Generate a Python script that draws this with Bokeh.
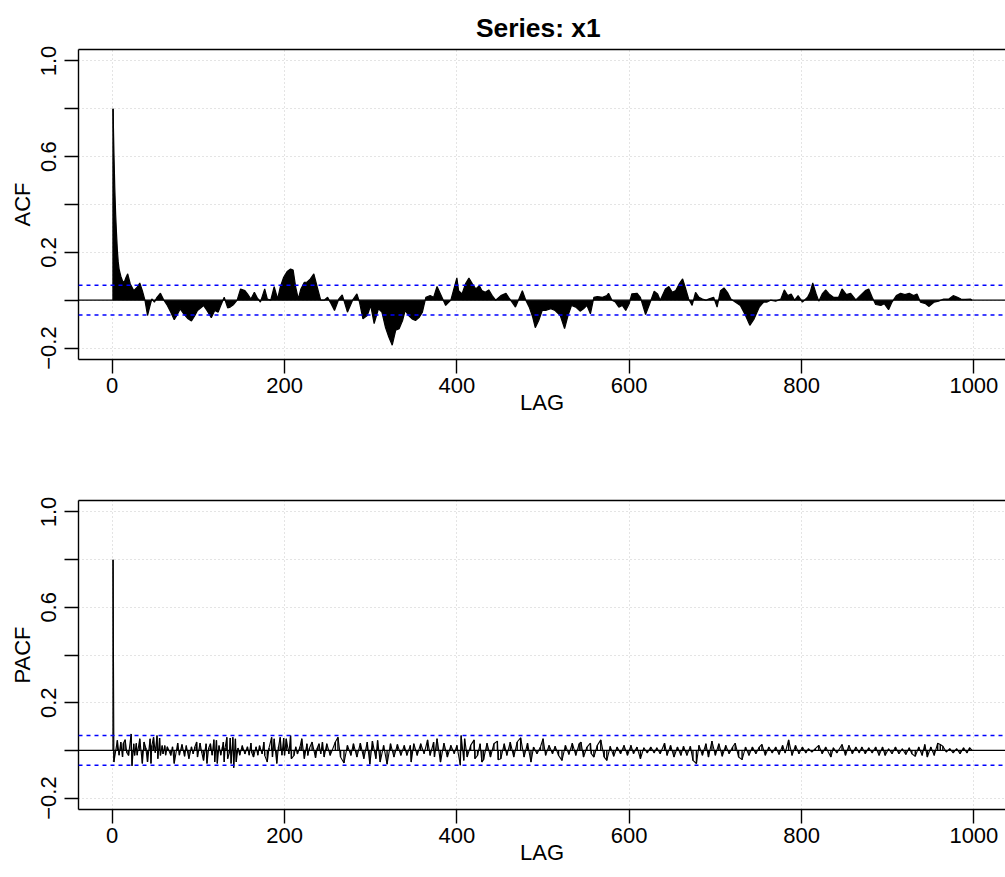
from bokeh.plotting import figure
from bokeh.layouts import column
from bokeh.models import Range1d, FixedTicker, LinearAxis, Span, CustomJSTickFormatter
from bokeh.embed import file_html
from bokeh.resources import INLINE

title_text = "Series:  x1"
x_ticks = [0, 200, 400, 600, 800, 1000]
y_ticks = [-0.2, 0.0, 0.2, 0.4, 0.6, 0.8, 1.0]
conf_limit = 0.062

acf_lag = [1, 2, 3, 4, 5, 6, 7, 8, 10, 12, 14, 16, 18, 21, 25, 29, 32, 35, 38, 41, 44, 46,
           49, 52, 56, 60, 64, 68, 72, 75, 79, 83, 88, 92, 96, 99, 103, 106, 110, 115, 119,
           123, 126, 130, 134, 137, 141, 145, 149, 154, 157, 161, 165, 168, 172, 177, 180,
           184, 188, 192, 195, 199, 203, 207, 210, 213, 216, 219, 223, 226, 230, 234, 238,
           242, 246, 250, 253, 258, 263, 267, 273, 279, 284, 287, 291, 296, 300, 304, 309,
           313, 317, 321, 325, 329, 333, 337, 340, 344, 348, 352, 356, 360, 364, 369, 373,
           377, 381, 387, 393, 396, 400, 402, 406, 410, 414, 418, 422, 426, 429, 433, 437,
           441, 445, 451, 457, 460, 464, 468, 472, 476, 480, 484, 488, 491, 495, 499, 503,
           509, 514, 520, 525, 529, 533, 538, 543, 547, 551, 555, 559, 563, 569, 574, 576,
           580, 584, 588, 592, 596, 600, 603, 609, 613, 619, 623, 629, 633, 636, 642, 646,
           650, 654, 658, 662, 665, 669, 673, 677, 681, 685, 689, 692, 698, 702, 706, 710,
           714, 718, 723, 729, 735, 740, 745, 751, 756, 760, 764, 770, 776, 780, 784, 788,
           792, 796, 801, 807, 810, 813, 817, 820, 824, 828, 832, 837, 843, 847, 852, 857,
           863, 868, 874, 878, 882, 886, 892, 896, 901, 905, 910, 915, 920, 925, 930, 934,
           938, 944, 948, 954, 959, 965, 971, 976, 981, 985, 990, 996, 998]
acf_val = [0.80, 0.62, 0.47, 0.36, 0.28, 0.21, 0.16, 0.13, 0.10, 0.08, 0.075, 0.095, 0.11,
           0.068, 0.04, 0.054, 0.072, 0.04, 0.0, -0.064, -0.022, 0.005, -0.008, 0.012, 0.029,
           0.0, -0.022, -0.05, -0.082, -0.064, -0.036, -0.057, -0.078, -0.087, -0.064,
           -0.043, -0.032, -0.022, -0.043, -0.073, -0.043, -0.05, -0.022, 0.012, -0.032,
           -0.029, -0.018, 0.0, 0.047, 0.04, 0.026, 0.005, 0.033, 0.012, -0.008, 0.047,
           0.005, 0.0, 0.057, 0.005, 0.054, 0.096, 0.12, 0.13, 0.126, 0.054, 0.005, 0.047,
           0.075, 0.075, 0.089, 0.11, 0.054, 0.0, 0.0, 0.012, -0.008, -0.043, 0.005, 0.022,
           -0.05, 0.0, 0.026, -0.008, -0.078, -0.064, -0.022, -0.098, -0.036, -0.05, -0.112,
           -0.154, -0.188, -0.126, -0.119, -0.085, -0.043, -0.064, -0.078, -0.085, -0.073,
           -0.05, 0.012, 0.019, 0.012, 0.057, 0.026, -0.022, 0.0, 0.04, 0.093, 0.04, 0.026,
           0.068, 0.093, 0.068, 0.047, 0.061, 0.04, 0.033, 0.043, 0.019, 0.0, 0.019, 0.029,
           0.012, -0.008, -0.029, 0.005, 0.04, 0.0, -0.029, -0.071, -0.115, -0.085, -0.043,
           -0.043, -0.036, -0.043, -0.064, -0.119, -0.064, -0.022, -0.029, -0.046, -0.036,
           -0.022, -0.057, 0.012, 0.015, 0.012, 0.019, 0.029, 0.0, -0.008, -0.029, -0.022,
           -0.043, -0.015, 0.026, 0.029, 0.012, -0.06, -0.022, 0.037, 0.026, 0.0, 0.047,
           0.057, 0.033, 0.04, 0.068, 0.089, 0.054, 0.005, -0.022, 0.033, 0.012, 0.005, 0.0,
           0.005, 0.012, -0.029, 0.04, 0.051, 0.033, 0.005, -0.008, -0.022, -0.064, -0.105,
           -0.078, -0.029, -0.008, -0.008, 0.0, -0.004, 0.005, 0.043, 0.019, 0.026, 0.0,
           0.019, -0.008, 0.012, 0.033, 0.072, 0.026, -0.004, 0.026, 0.043, 0.026, 0.012,
           0.012, 0.047, 0.023, 0.029, 0.001, 0.019, 0.04, 0.047, 0.012, -0.018, -0.022,
           -0.015, -0.04, -0.008, 0.019, 0.029, 0.023, 0.029, 0.019, 0.026, -0.008, -0.015,
           -0.026, -0.008, -0.004, 0.005, 0.005, 0.019, 0.012, 0.005, 0.003, 0.005, 0.0]

pacf_lag = [1, 2, 6, 8, 10, 12, 13, 15, 17, 19, 22, 23, 25, 26, 28, 29, 32, 35, 37, 39, 41,
            44, 45, 46, 48, 50, 52, 53, 55, 56, 58, 59, 61, 62, 64, 68, 70, 72, 76, 78, 81,
            84, 86, 89, 92, 94, 96, 98, 99, 102, 104, 106, 109, 110, 112, 114, 116, 118,
            119, 121, 122, 124, 126, 128, 129, 130, 131, 133, 134, 136, 137, 138, 140, 141,
            143, 144, 146, 148, 151, 154, 157, 159, 161, 162, 164, 167, 169, 171, 174, 176,
            177, 180, 182, 185, 186, 188, 191, 193, 195, 197, 199, 200, 202, 205, 207, 208,
            211, 213, 215, 218, 220, 223, 226, 227, 229, 232, 236, 238, 240, 242, 244, 246,
            249, 253, 259, 262, 265, 269, 273, 277, 280, 284, 288, 292, 296, 299, 302, 306,
            308, 311, 315, 319, 323, 327, 331, 335, 339, 342, 346, 347, 350, 354, 358, 362,
            366, 369, 373, 374, 377, 381, 385, 389, 393, 397, 400, 404, 405, 408, 409, 412,
            416, 420, 421, 424, 427, 429, 431, 435, 439, 443, 447, 448, 451, 455, 458, 462,
            466, 470, 474, 478, 482, 486, 489, 493, 497, 500, 503, 507, 511, 514, 518, 522,
            526, 530, 534, 538, 542, 544, 547, 551, 555, 556, 559, 563, 567, 571, 574, 578,
            582, 586, 590, 594, 598, 602, 605, 609, 613, 617, 621, 625, 629, 632, 636, 641,
            644, 648, 652, 656, 660, 663, 667, 671, 674, 678, 681, 685, 689, 692, 696, 700,
            704, 708, 712, 716, 720, 723, 727, 731, 735, 739, 743, 747, 751, 754, 758, 762,
            766, 770, 774, 778, 781, 785, 789, 793, 797, 801, 805, 808, 812, 816, 820, 824,
            828, 834, 837, 841, 847, 851, 855, 859, 863, 867, 870, 874, 878, 882, 886, 890,
            894, 897, 901, 905, 909, 913, 917, 921, 925, 928, 932, 936, 940, 943, 946, 950,
            954, 958, 961, 964, 968, 972, 976, 980, 984, 988, 992, 995, 998]
pacf_val = [0.80, -0.049, 0.042, -0.02, 0.035, -0.028, 0.03, 0.045, -0.01, -0.021, 0.069,
            -0.065, 0.028, -0.021, 0.03, -0.02, 0.049, -0.055, 0.035, 0.01, -0.049, 0.049,
            -0.055, 0.02, 0.055, -0.01, 0.062, -0.035, 0.052, -0.021, 0.02, -0.015, 0.02,
            -0.02, 0.015, -0.021, 0.015, -0.055, 0.031, -0.02, 0.025, -0.025, 0.02, -0.035,
            0.015, -0.015, 0.015, 0.035, -0.028, 0.031, -0.01, -0.042, 0.028, -0.055, 0.01,
            0.028, -0.02, 0.045, -0.049, 0.042, -0.055, 0.02, -0.02, 0.015, 0.035, -0.049,
            0.01, 0.055, -0.035, -0.01, 0.052, -0.055, 0.055, -0.073, 0.049, -0.049, 0.01,
            -0.02, 0.02, -0.015, 0.015, -0.02, 0.031, -0.01, -0.028, 0.015, -0.02, 0.02,
            -0.015, 0.035, -0.021, -0.049, 0.01, 0.055, -0.028, 0.049, -0.055, 0.015, 0.055,
            -0.02, 0.052, -0.021, 0.049, -0.015, 0.062, -0.035, -0.021, 0.015, -0.015, 0.015,
            0.049, -0.035, 0.028, -0.021, 0.01, 0.035, -0.031, 0.01, 0.028, -0.015, 0.035,
            -0.028, 0.028, -0.021, 0.035, 0.055, -0.028, -0.053, 0.021, -0.021, 0.028, -0.028,
            0.03, -0.035, 0.035, -0.058, 0.039, -0.035, 0.042, -0.049, 0.021, -0.058, 0.028,
            -0.028, 0.025, -0.021, 0.021, -0.021, 0.021, -0.049, 0.028, -0.021, 0.028,
            -0.014, 0.044, -0.021, 0.035, -0.028, 0.049, -0.049, 0.03, -0.028, 0.021, -0.014,
            0.021, -0.062, 0.062, -0.042, 0.049, -0.028, 0.021, 0.044, -0.035, -0.021, 0.028,
            -0.049, -0.039, 0.03, -0.028, 0.028, 0.039, -0.039, -0.035, 0.028, -0.021, 0.035,
            -0.028, 0.035, 0.053, -0.028, 0.03, -0.049, 0.014, -0.014, 0.014, 0.049, -0.021,
            0.021, -0.014, 0.017, -0.021, -0.042, 0.021, -0.017, 0.03, -0.021, 0.028, 0.035,
            -0.028, 0.014, 0.03, -0.014, -0.028, 0.021, 0.044, -0.028, -0.042, 0.017, -0.025,
            0.014, -0.014, 0.021, -0.021, 0.021, -0.014, 0.014, -0.035, 0.011, -0.011, 0.014,
            -0.011, 0.011, -0.014, 0.03, -0.021, 0.021, -0.028, 0.014, -0.021, 0.017, -0.021,
            0.017, -0.042, -0.055, 0.021, -0.021, 0.028, -0.028, 0.039, -0.021, 0.028,
            -0.025, 0.021, -0.014, 0.014, 0.03, -0.028, -0.039, 0.014, -0.021, 0.014, -0.014,
            0.014, 0.025, -0.021, 0.014, -0.011, 0.014, -0.017, 0.021, -0.011, 0.044, -0.021,
            0.021, -0.014, 0.014, -0.011, 0.007, -0.007, 0.007, 0.021, -0.014, 0.014, -0.028,
            0.011, -0.011, 0.025, -0.021, 0.021, -0.014, 0.014, -0.011, 0.014, -0.014, 0.011,
            -0.011, 0.014, -0.021, 0.014, -0.021, 0.007, -0.014, 0.014, -0.014, 0.007, -0.017,
            0.011, -0.014, -0.025, 0.014, -0.021, 0.025, -0.028, 0.014, -0.021, 0.03, 0.025,
            0.017, -0.007, 0.007, -0.011, 0.007, -0.014, 0.011, -0.011, 0.011, 0.0]

FONT = "Liberation Sans"
FS = "22px"
X_START, X_END = -39.1, 1036.7
Y_START, Y_END = -0.248, 1.048

yfmt_code = """
const m = {'-0.2': '\u22120.2', '0.2': '0.2', '0.6': '0.6', '1': '1.0'};
const k = (Math.round(tick * 10) / 10).toString();
return (k in m) ? m[k] : '';
"""


def make_panel(ylabel, height, border_top, border_bottom):
    p = figure(width=1005, height=height, output_backend="svg", toolbar_location=None,
               x_range=Range1d(X_START, X_END), y_range=Range1d(Y_START, Y_END),
               min_border_left=78, min_border_right=0, min_border_top=border_top,
               min_border_bottom=border_bottom)
    p.outline_line_color = None
    p.background_fill_color = "white"
    p.border_fill_color = "white"

    xa = p.below[0]
    xa.ticker = FixedTicker(ticks=x_ticks)
    xa.axis_label = "LAG"
    ya = p.left[0]
    ya.ticker = FixedTicker(ticks=y_ticks)
    ya.axis_label = ylabel
    ya.formatter = CustomJSTickFormatter(code=yfmt_code)
    ya.major_label_orientation = "vertical"
    for ax in (xa, ya):
        ax.axis_line_color = "black"
        ax.axis_line_width = 1.4
        ax.major_tick_line_color = "black"
        ax.major_tick_line_width = 1.4
        ax.major_tick_out = 14
        ax.major_tick_in = 0
        ax.minor_tick_line_color = None
        ax.major_label_text_font = FONT
        ax.major_label_text_font_size = FS
        ax.major_label_text_color = "black"
        ax.axis_label_text_font = FONT
        ax.axis_label_text_font_size = FS
        ax.axis_label_text_font_style = "normal"
        ax.axis_label_text_color = "black"
    xa.major_label_standoff = 4
    xa.axis_label_standoff = -6
    ya.major_label_standoff = 8
    ya.axis_label_standoff = 4

    top = LinearAxis(ticker=FixedTicker(ticks=[]), axis_line_color="black",
                     axis_line_width=1.4, major_tick_line_color=None, major_tick_out=0,
                     major_tick_in=0, major_label_standoff=0,
                     minor_tick_line_color=None, major_label_text_font_size="0px")
    p.add_layout(top, "above")

    p.xgrid.ticker = FixedTicker(ticks=x_ticks)
    p.ygrid.ticker = FixedTicker(ticks=y_ticks)
    for g in (p.xgrid, p.ygrid):
        g.grid_line_color = "#c8c8c8"
        g.grid_line_dash = "1 3"
        g.grid_line_width = 1

    p.add_layout(Span(location=0, dimension="width", line_color="black", line_width=1.3))
    for c in (conf_limit, -conf_limit):
        p.add_layout(Span(location=c, dimension="width", line_color="blue",
                          line_width=1.5, line_dash="4 4"))
    return p


p1 = make_panel("ACF", 450, 49, 91)
p1.title.text = title_text
p1.title.align = "center"
p1.title.text_font = FONT
p1.title.text_font_size = "26.4px"
p1.title.text_font_style = "bold"
p1.title.text_color = "black"
p1.title.standoff = 14
p1.varea(x=acf_lag, y1=[0] * len(acf_lag), y2=acf_val, fill_color="black")
p1.line(acf_lag, acf_val, line_color="black", line_width=1.2)
p1.segment(x0=acf_lag[:1], y0=[0], x1=acf_lag[:1], y1=acf_val[:1], line_color="black",
           line_width=1.5)

p2 = make_panel("PACF", 427, 50, 68)
p2.segment(x0=pacf_lag, y0=[0] * len(pacf_lag), x1=pacf_lag, y1=pacf_val,
           line_color="black", line_width=1.4)
p2.line(pacf_lag, pacf_val, line_color="black", line_width=1.1)

layout = column(p1, p2, spacing=0)
open("out.html", "w").write(file_html(layout, INLINE))
